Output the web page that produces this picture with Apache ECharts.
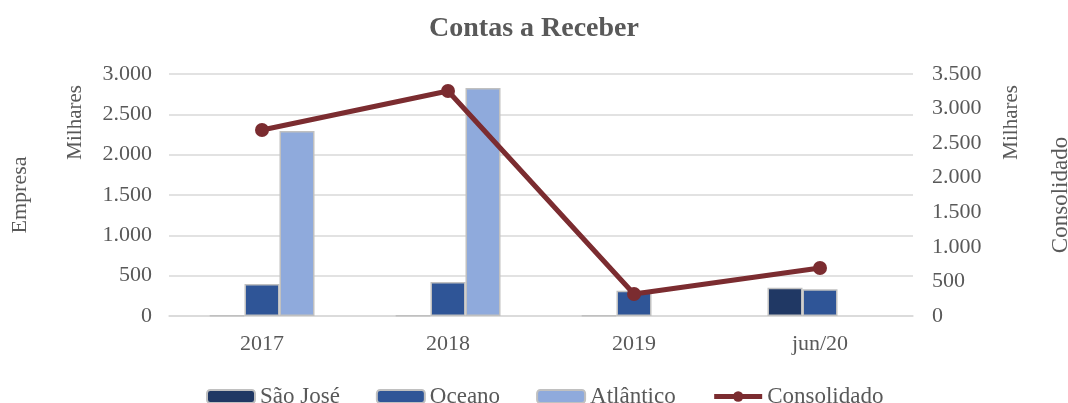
<!DOCTYPE html>
<html>
<head>
<meta charset="utf-8">
<script src="https://cdn.jsdelivr.net/npm/echarts@6/dist/echarts.min.js"></script>
<style>
  html, body { margin: 0; padding: 0; background: #fff; }
  #eChart { width: 1068px; height: 403px; }
</style>
</head>
<body>
<div id="eChart"></div>
<script>
var categories = ['2017', '2018', '2019', 'jun/20'];
var saoJose = [5, 5, 5, 351];
var oceano = [398, 421, 313, 331];
var atlantico = [2292, 2826, null, null];
var consolidado = [2690, 3255, 318, 694];

var fontFamily = '"Liberation Serif", "DejaVu Serif", serif';
var textColor = '#595959';
var lineColor = '#7b2c30';

function fmt(v) {
    return String(v).replace(/\B(?=(\d{3})+(?!\d))/g, '.');
}

var barBorder = { borderColor: '#c0c0c0', borderWidth: 1.5 };

var option = {
    animation: false,
    textStyle: { fontFamily: fontFamily },
    title: {
        text: 'Contas a Receber',
        left: 'center',
        top: 10,
        textStyle: { fontFamily: fontFamily, fontSize: 28, fontWeight: 'bold', color: textColor }
    },
    legend: {
        bottom: -10,
        left: 201,
        itemWidth: 48,
        itemHeight: 13,
        itemGap: 36,
        textStyle: { fontFamily: fontFamily, fontSize: 23, color: textColor },
        data: ['São José', 'Oceano', 'Atlântico', {
            name: 'Consolidado',
            lineStyle: { width: 5, color: lineColor },
            itemStyle: { color: lineColor }
        }]
    },
    grid: {
        left: 169,
        right: 155,
        top: 74,
        bottom: 87,
        outerBoundsMode: 'none',
        containLabel: false
    },
    xAxis: [{
        type: 'category',
        data: categories,
        axisTick: { show: false },
        axisLine: { lineStyle: { color: '#d9d9d9', width: 1.5 } },
        axisLabel: { fontFamily: fontFamily, fontSize: 22, color: textColor, margin: 17 }
    }],
    yAxis: [{
        type: 'value',
        min: 0,
        max: 3000,
        interval: 500,
        name: 'Empresa',
        nameLocation: 'middle',
        nameRotate: 90,
        nameGap: 138,
        nameTextStyle: { fontFamily: fontFamily, fontSize: 22, color: textColor },
        axisLine: { show: false },
        axisTick: { show: false },
        splitLine: { lineStyle: { color: '#d9d9d9', width: 1.5 } },
        axisLabel: { fontFamily: fontFamily, fontSize: 22, color: textColor, margin: 17, formatter: fmt }
    }, {
        type: 'value',
        min: 0,
        max: 3500,
        interval: 500,
        position: 'right',
        name: 'Consolidado',
        nameLocation: 'middle',
        nameRotate: 90,
        nameGap: 136,
        nameTextStyle: { fontFamily: fontFamily, fontSize: 23, color: textColor },
        axisLine: { show: false },
        axisTick: { show: false },
        splitLine: { show: false },
        axisLabel: { fontFamily: fontFamily, fontSize: 22, color: textColor, margin: 19, formatter: fmt }
    }],
    graphic: [{
        type: 'text',
        left: 65,
        top: 85,
        rotation: Math.PI / 2,
        style: { text: 'Milhares', font: '21px ' + fontFamily, fill: textColor }
    }, {
        type: 'text',
        left: 1001,
        top: 85,
        rotation: Math.PI / 2,
        style: { text: 'Milhares', font: '21px ' + fontFamily, fill: textColor }
    }],
    series: [{
        name: 'São José',
        type: 'bar',
        barWidth: 35,
        barGap: '0%',
        itemStyle: Object.assign({ color: '#203864' }, barBorder),
        data: saoJose
    }, {
        name: 'Oceano',
        type: 'bar',
        barWidth: 35,
        barGap: '0%',
        itemStyle: Object.assign({ color: '#2f5597' }, barBorder),
        data: oceano
    }, {
        name: 'Atlântico',
        type: 'bar',
        barWidth: 35,
        barGap: '0%',
        itemStyle: Object.assign({ color: '#8faadc' }, barBorder),
        data: atlantico
    }, {
        name: 'Consolidado',
        type: 'line',
        yAxisIndex: 1,
        symbol: 'circle',
        symbolSize: 14,
        lineStyle: { color: lineColor, width: 5 },
        itemStyle: { color: lineColor },
        data: consolidado
    }]
};

var _eChart = echarts.init(document.getElementById('eChart'));
_eChart.setOption(option);
</script>
</body>
</html>
